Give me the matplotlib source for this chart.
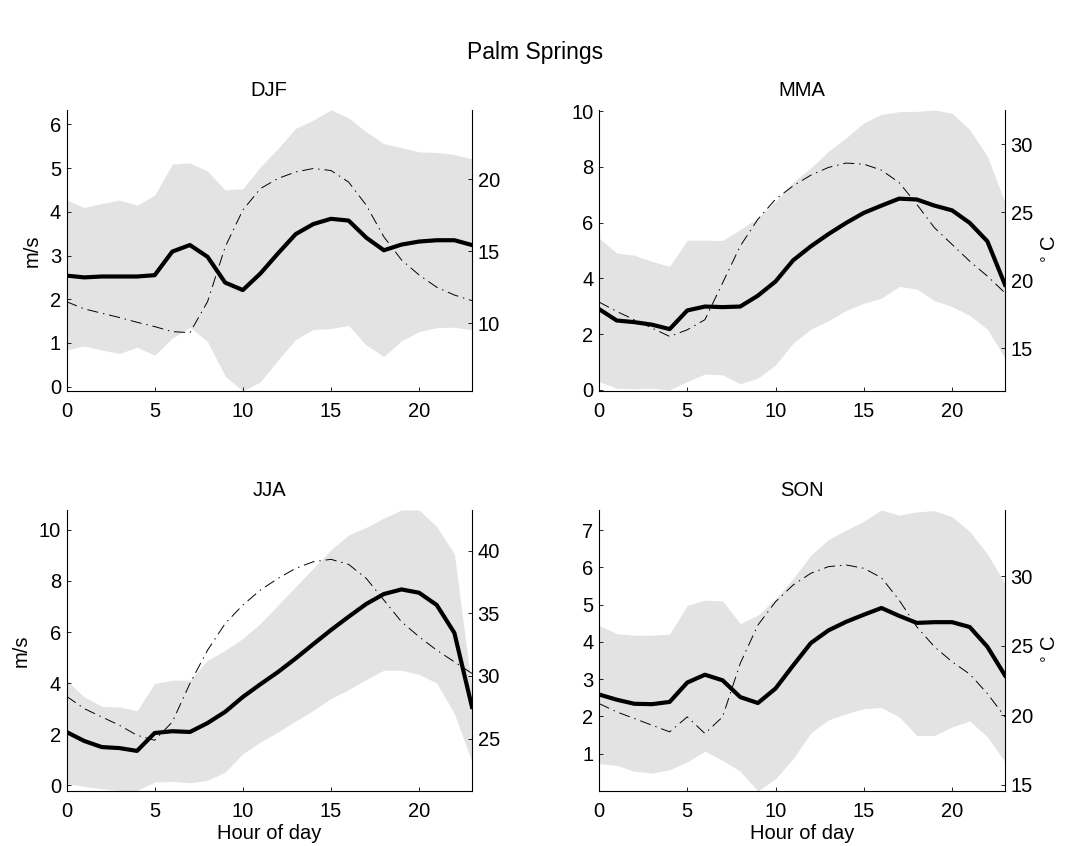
import matplotlib
matplotlib.use("Agg")
import matplotlib.pyplot as plt
import numpy as np

plt.rcParams['font.family'] = ['Liberation Sans', 'DejaVu Sans']

hours = np.arange(24)
seasons = ['DJF', 'MMA', 'JJA', 'SON']

# wind speed mean (m/s)
wind_mean = {
    'DJF': [2.54, 2.50, 2.52, 2.52, 2.52, 2.55, 3.09, 3.24, 2.97, 2.38, 2.21, 2.59,
            3.05, 3.49, 3.72, 3.84, 3.80, 3.41, 3.12, 3.25, 3.32, 3.35, 3.35, 3.24],
    'MMA': [2.90, 2.49, 2.43, 2.34, 2.18, 2.85, 2.99, 2.97, 2.99, 3.38, 3.89, 4.65,
            5.15, 5.59, 5.99, 6.35, 6.61, 6.86, 6.83, 6.61, 6.44, 5.99, 5.33, 3.77],
    'JJA': [2.09, 1.74, 1.50, 1.46, 1.35, 2.05, 2.12, 2.09, 2.44, 2.88, 3.46, 3.96,
            4.44, 4.97, 5.53, 6.08, 6.60, 7.10, 7.49, 7.67, 7.54, 7.06, 5.97, 3.07],
    'SON': [2.59, 2.45, 2.34, 2.33, 2.39, 2.91, 3.12, 2.97, 2.52, 2.36, 2.75, 3.37,
            3.97, 4.31, 4.54, 4.73, 4.91, 4.70, 4.51, 4.53, 4.53, 4.40, 3.87, 3.10],
}

# wind speed band, upper and lower (m/s)
wind_upper = {
    'DJF': [4.27, 4.10, 4.19, 4.27, 4.15, 4.38, 5.09, 5.12, 4.93, 4.50, 4.53, 5.03,
            5.45, 5.91, 6.10, 6.33, 6.15, 5.83, 5.56, 5.47, 5.37, 5.36, 5.31, 5.21],
    'MMA': [5.45, 4.91, 4.83, 4.61, 4.43, 5.37, 5.37, 5.36, 5.75, 6.17, 6.77, 7.45,
            7.96, 8.56, 9.04, 9.58, 9.88, 9.98, 9.99, 10.04, 9.92, 9.34, 8.38, 6.71],
    'JJA': [4.12, 3.46, 3.10, 3.07, 2.92, 3.99, 4.12, 4.12, 4.90, 5.29, 5.75, 6.34,
            7.06, 7.78, 8.50, 9.22, 9.80, 10.10, 10.46, 10.78, 10.78, 10.13, 9.06, 3.75],
    'SON': [4.45, 4.22, 4.18, 4.18, 4.21, 4.98, 5.12, 5.10, 4.49, 4.72, 5.16, 5.70,
            6.33, 6.75, 7.00, 7.24, 7.54, 7.40, 7.49, 7.52, 7.36, 6.96, 6.36, 5.57],
}
wind_lower = {
    'DJF': [0.84, 0.93, 0.84, 0.76, 0.90, 0.72, 1.11, 1.36, 1.03, 0.24, -0.10, 0.11,
            0.61, 1.08, 1.31, 1.33, 1.40, 0.95, 0.69, 1.05, 1.26, 1.35, 1.36, 1.30],
    'MMA': [0.30, 0.06, 0.04, 0.06, 0.00, 0.30, 0.57, 0.54, 0.22, 0.42, 0.90, 1.68,
            2.18, 2.48, 2.85, 3.11, 3.29, 3.71, 3.62, 3.20, 2.99, 2.67, 2.18, 1.14],
    'JJA': [0.07, -0.04, -0.13, -0.20, -0.20, 0.13, 0.16, 0.10, 0.20, 0.52, 1.24, 1.70,
            2.09, 2.52, 2.94, 3.40, 3.75, 4.14, 4.51, 4.51, 4.34, 4.01, 2.81, 0.92],
    'SON': [0.73, 0.69, 0.53, 0.48, 0.57, 0.78, 1.07, 0.82, 0.53, 0.00, 0.33, 0.87,
            1.56, 1.91, 2.07, 2.21, 2.24, 1.99, 1.49, 1.49, 1.72, 1.88, 1.45, 0.78],
}

# temperature (deg C)
temp = {
    'DJF': [11.5, 11.0, 10.7, 10.4, 10.07, 9.77, 9.42, 9.35, 11.5, 15.3, 17.85, 19.35,
            20.05, 20.5, 20.74, 20.6, 19.8, 18.2, 16.0, 14.4, 13.35, 12.5, 11.96, 11.57],
    'MMA': [18.39, 17.70, 17.09, 16.48, 15.86, 16.35, 17.09, 19.79, 22.5, 24.47, 25.94, 26.93,
            27.71, 28.28, 28.60, 28.52, 28.08, 27.17, 25.57, 23.85, 22.62, 21.39, 20.29, 19.06],
    'JJA': [28.38, 27.40, 26.73, 26.07, 25.27, 24.87, 26.33, 29.40, 32.06, 34.19, 35.66, 36.86,
            37.79, 38.59, 39.12, 39.31, 38.91, 37.79, 36.06, 34.33, 33.13, 32.06, 31.13, 30.20],
    'SON': [20.84, 20.24, 19.76, 19.28, 18.80, 19.88, 18.68, 19.88, 23.73, 26.49, 28.17, 29.38,
            30.22, 30.70, 30.82, 30.58, 29.90, 28.29, 26.37, 24.93, 23.85, 22.96, 21.56, 19.88],
}

left_ylim = {'DJF': (-0.1, 6.33), 'MMA': (-0.04, 10.04), 'JJA': (-0.22, 10.78), 'SON': (0.0, 7.54)}
right_ylim = {'DJF': (5.3, 24.8), 'MMA': (11.85, 32.5), 'JJA': (20.82, 43.25), 'SON': (14.54, 34.78)}
left_ticks = {'DJF': range(0, 7), 'MMA': range(0, 11, 2), 'JJA': range(0, 11, 2), 'SON': range(1, 8)}
right_ticks = {'DJF': [10, 15, 20], 'MMA': [15, 20, 25, 30], 'JJA': [25, 30, 35, 40], 'SON': [15, 20, 25, 30]}

fig = plt.figure(figsize=(10.71, 8.46), dpi=100)
positions = {
    'DJF': [0.0621, 0.5378, 0.3786, 0.3322],
    'MMA': [0.5593, 0.5378, 0.3791, 0.3322],
    'JJA': [0.0621, 0.065, 0.3786, 0.3322],
    'SON': [0.5593, 0.065, 0.3791, 0.3322],
}
fs = 14.5

for i, s in enumerate(seasons):
    ax = fig.add_axes(positions[s])
    ax.fill_between(hours, wind_lower[s], wind_upper[s], color='#e3e3e3', lw=0)
    ax.plot(hours, wind_mean[s], color='black', lw=3)
    ax.set_xlim(0, 23)
    ax.set_ylim(*left_ylim[s])
    ax.set_xticks([0, 5, 10, 15, 20])
    ax.set_yticks(list(left_ticks[s]))
    ax.tick_params(direction='in', length=3, width=0.6, labelsize=fs)
    ax.tick_params(axis='x', pad=8)
    ax.tick_params(axis='y', pad=4)
    ax.spines['top'].set_visible(False)
    ax.spines['right'].set_visible(False)
    for sp in ['left', 'bottom']:
        ax.spines[sp].set_linewidth(0.8)
    ax.set_title(s, fontsize=fs, pad=10)

    ax2 = ax.twinx()
    ax2.plot(hours, temp[s], color='black', lw=0.7, ls=(0, (11.5, 5, 1.5, 5)))
    ax2.set_ylim(*right_ylim[s])
    ax2.set_yticks(right_ticks[s])
    ax2.tick_params(direction='in', length=3, width=0.6, labelsize=fs, pad=4)
    for sp in ['top', 'left', 'bottom']:
        ax2.spines[sp].set_visible(False)
    ax2.spines['right'].set_linewidth(0.8)

    if i % 2 == 0:
        ax.set_ylabel('m/s', fontsize=fs, labelpad=6)
    else:
        ax2.set_ylabel(r'$^\circ$C', fontsize=fs, labelpad=6)
    if i >= 2:
        ax.set_xlabel('Hour of day', fontsize=fs, labelpad=2)

fig.suptitle('Palm Springs', fontsize=16.5, y=0.952)
fig.savefig('out.png', dpi=100)
